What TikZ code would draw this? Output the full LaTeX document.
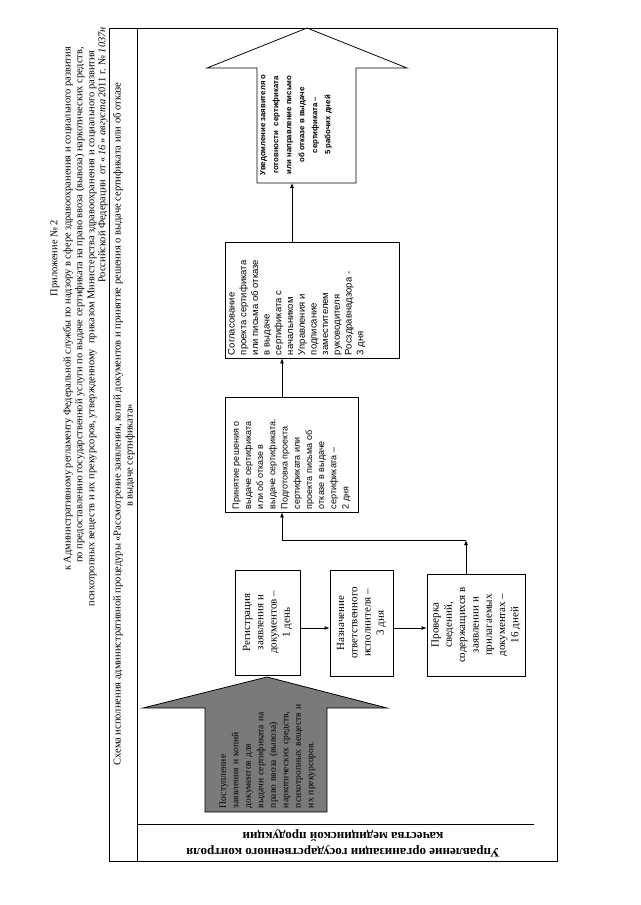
\documentclass[tikz,border=0pt]{standalone}
\usepackage{fontspec}
\setmainfont{Liberation Serif}
\newfontfamily\arialf{Liberation Sans}
\usetikzlibrary{arrows.meta}
\begin{document}
\begin{tikzpicture}[x=1pt,y=-1pt,
  frame/.style={line width=0.8pt},
  boxn/.style={draw, line width=0.8pt, rotate=90, inner sep=2pt, align=center, font=\fontsize{11}{13.3}\selectfont},
  sbox/.style={draw, line width=0.8pt, rotate=90, inner sep=3pt},
  conn/.style={line width=0.8pt, -{Latex[length=5pt,width=4pt]}},
  hdr/.style={rotate=90, inner sep=0pt, font=\fontsize{10.4}{12}\selectfont},
]
\useasboundingbox[fill=white] (0,0) rectangle (640,905);

% header
\node[hdr] (h1) at (55,258) {Приложение № 2};
\node[hdr, anchor=east] (h2) at (68,47) {к Административному регламенту Федеральной службы по надзору в сфере здравоохранения и социального развития};
\node[hdr, anchor=east] (h3) at (80,47) {по предоставлению государственной услуги по выдаче сертификата на право ввоза (вывоза) наркотических средств,};
\node[hdr, anchor=east] (h4) at (92,50) {психотропных веществ и их прекурсоров, утвержденному\ \ приказом Министерства здравоохранения и социального развития};
\node[hdr, anchor=east] (h5) at (103,27) {Российской Федерации\ \ от «\,\textit{16}\,» \textit{августа}\,2011 г. № \textit{1037н}};

% frame
\draw[frame] (109,28) rectangle (557,861);
\draw[frame] (137,28) -- (137,861);
\draw[frame] (137,824) -- (534,824);

% title
\node[rotate=90, align=center, inner sep=0pt, font=\fontsize{10.5}{12}\selectfont] (title) at (124,424)
  {Схема исполнения административной процедуры «Рассмотрение заявления, копий документов и принятие решения о выдаче сертификата или об отказе\\\hspace*{-63pt}в выдаче сертификата»};

% lane label
\node[rotate=180, align=center, inner sep=0pt, font=\bfseries\fontsize{13}{16}\selectfont] (lane) at (343,843)
  {Управление организации государственного контроля\\качества медицинской продукции};

% incoming grey arrow
\draw[frame, fill=black!52] (267,677) -- (387,708) -- (327,708) -- (327,812) -- (205,812) -- (205,708) -- (143,708) -- cycle;
\node[rotate=90, align=left, text width=112pt, inner sep=0pt, font=\fontsize{9.5}{12.5}\selectfont] (post) at (267.5,752)
  {Поступление\\заявления и копий\\документов для\\выдачи сертификата на\\право ввоза (вывоза)\\наркотических средств,\\психотропных веществ и\\их прекурсоров.};

% process boxes
\node[boxn, minimum width=105pt, minimum height=65pt] (reg) at (267.5,622.5) {Регистрация\\заявления и\\документов –\\1 день};
\node[boxn, minimum width=106pt, minimum height=63pt] (nazn) at (361.5,623) {Назначение\\ответственного\\исполнителя –\\3 дня};
\node[boxn, minimum width=102pt, minimum height=98pt] (prov) at (476,625) {Проверка\\сведений,\\содержащихся в\\заявлении и\\прилагаемых\\документах –\\16 дней};

\node[sbox, font=\arialf\fontsize{9}{12.2}\selectfont] (prin) at (291.5,454.5)
  {\parbox[c][127pt][c]{109pt}{\raggedright Принятие решения о\\выдаче сертификата\\или об отказе в\\выдаче сертификата.\\Подготовка проекта\\сертификата или\\проекта письма об\\отказе в выдаче\\сертификата –\\2 дня}};

\node[sbox, font=\arialf\fontsize{9.5}{11.7}\selectfont] (sogl) at (312,300)
  {\parbox[c][168pt][t]{110pt}{\raggedright Согласование\\проекта сертификата\\или письма об отказе\\в выдаче\\сертификата с\\начальником\\Управления и\\подписание\\заместителем\\руководителя\\Росздравнадзора -\\3 дня}};

% outgoing arrow
\draw[frame] (307,28) -- (407,68) -- (356,68) -- (356,183) -- (257,183) -- (257,68) -- (207,68) -- cycle;
\node[rotate=90, align=center, inner sep=0pt, font=\arialf\bfseries\fontsize{7.8}{13}\selectfont] (uved) at (296,125)
  {Уведомление заявителя о\\готовности\ \ сертификата\\или направление письмо\\об отказе в выдаче\\сертификата –\\5 рабочих дней};
\coordinate (uvedB) at (292,183);

% connectors
\coordinate (ay) at (0,628);
\coordinate (j0) at (466,540);
\coordinate (j1) at (282,540);
\draw[conn] (reg.south |- ay) -- (nazn.north |- ay);
\draw[conn] (nazn.south |- ay) -- (prov.north |- ay);
\draw[conn] (prov.east -| j0) -- (j0);
\draw[conn] (j0) -- (j1) -- (prin.west -| j1);
\draw[conn] (prin.east -| j1) -- (sogl.west -| j1);
\draw[conn] (sogl.east -| uvedB) -- (uvedB);
\end{tikzpicture}
\end{document}
